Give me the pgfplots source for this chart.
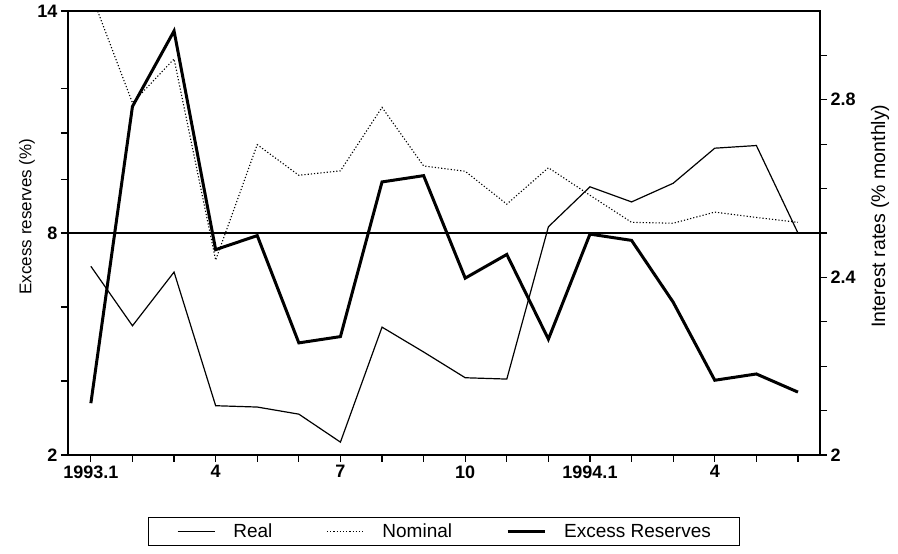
\documentclass[border=0pt]{standalone}
\usepackage{pgfplots}
\pgfplotsset{compat=1.18}
\usepackage{fontspec}
\setmainfont{Liberation Sans}
\begin{document}
\begin{tikzpicture}
\useasboundingbox (-68pt,-99pt) rectangle (830pt,455pt);
\begin{axis}[
 at={(0,0)}, anchor=south west,
 scale only axis, width=752pt, height=444pt,
 xmin=0.45, xmax=18.53, ymin=2, ymax=14,
 xtick={1,...,18}, xticklabels={1993.1\hspace{20pt},,,4,,,7,,,10,,,1994.1,,,4,,},
 ytick={2,4,6,8,9.45,10.7,11.9,14}, yticklabels={2,,,8,,,,14},
 tick pos=left,
 tick align=outside, major tick length=7pt,
 tick style={black, line width=1.2pt},
 axis line style={line width=1.5pt},
 ticklabel style={font=\fontsize{18}{18}\selectfont\bfseries},
 /pgf/number format/assume math mode=true,
 ylabel={Excess reserves (\%)},
 ylabel style={font=\fontsize{17}{17}\selectfont, at={(axis description cs:-0.0545,0.537)}, anchor=center},
]
\addplot[black, line width=1.2pt, forget plot] coordinates {(0.45,8) (18.53,8)};
\addplot[black, line width=3pt, line join=miter] coordinates {
(1,3.4) (2,11.42) (3,13.46) (4,7.55) (5,7.93) (6,5.03) (7,5.2) (8,9.38) (9,9.55)
(10,6.78) (11,7.42) (12,5.13) (13,7.97) (14,7.8) (15,6.13) (16,4.02) (17,4.19) (18,3.7)};
\end{axis}
\begin{axis}[
 at={(0,0)}, anchor=south west,
 scale only axis, width=752pt, height=444pt,
 xmin=0.45, xmax=18.53, ymin=2, ymax=3,
 axis x line=none, axis y line*=right,
 ytick={2,2.1,2.2,2.3,2.4,2.5,2.6,2.7,2.8,2.9}, yticklabels={2,,,,2.4,,,,2.8,},
 tick align=outside, major tick length=7pt,
 tick style={black, line width=1.2pt},
 axis line style={line width=1.5pt},
 ticklabel style={font=\fontsize{18}{18}\selectfont\bfseries},
 /pgf/number format/assume math mode=true,
 ylabel={Interest rates (\% monthly)},
 ylabel style={font=\fontsize{19.5}{20}\selectfont, at={(axis description cs:1.080,0.538)}, anchor=center},
 legend style={at={(axis description cs:0.5,-0.173)}, anchor=center, legend columns=3,
   draw=black, line width=1pt, font=\fontsize{19}{19}\selectfont,
   nodes={inner xsep=0pt, inner ysep=2pt},
   /tikz/every even column/.append style={column sep=54pt},
   inner xsep=29pt, inner ysep=4.5pt},
 legend image code/.code={\draw[#1] (0pt,0pt) -- (37pt,0pt); \path (55pt,0pt);},
]
\addplot[black, line width=1.2pt] coordinates {
(1,2.425) (2,2.291) (3,2.412) (4,2.111) (5,2.108) (6,2.092) (7,2.029) (8,2.288) (9,2.232)
(10,2.174) (11,2.171) (12,2.514) (13,2.604) (14,2.570) (15,2.612) (16,2.691) (17,2.697) (18,2.5)};
\addlegendentry{Real}
\addplot[black, line width=1.1pt, dash pattern=on 1.2pt off 2pt] coordinates {
(1,3.04) (2,2.793) (3,2.892) (4,2.439) (5,2.699) (6,2.630) (7,2.640) (8,2.783) (9,2.651)
(10,2.639) (11,2.565) (12,2.647) (13,2.585) (14,2.524) (15,2.522) (16,2.547) (17,2.535) (18,2.524)};
\addlegendentry{Nominal}
\addlegendimage{black, line width=3pt}
\addlegendentry{Excess Reserves}
\end{axis}
\end{tikzpicture}
\end{document}
